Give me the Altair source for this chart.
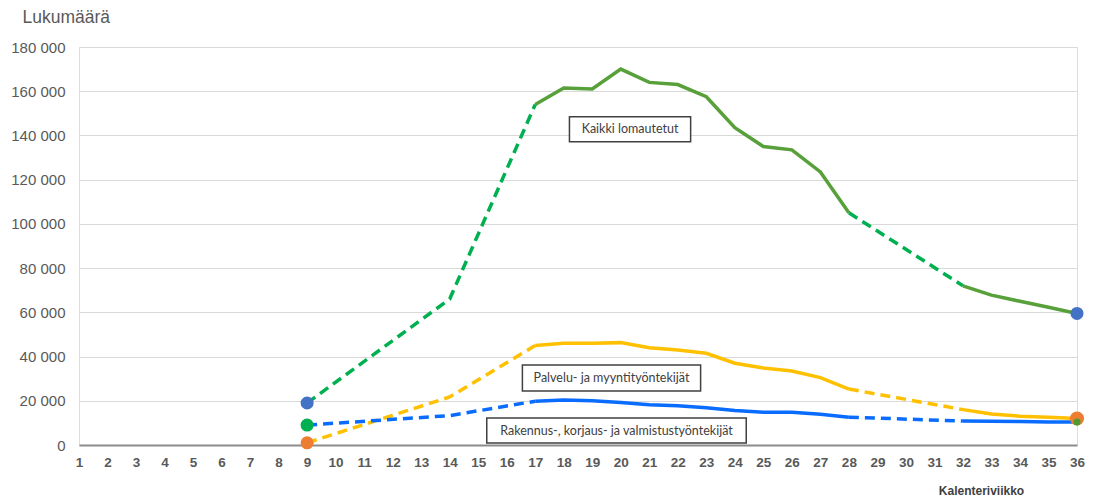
import altair as alt
import pandas as pd

# ---- data ----
weeks = [9, 14, 17, 18, 19, 20, 21, 22, 23, 24, 25, 26, 27, 28, 32, 33, 34, 35, 36]
kaikki = [19000, 66000, 154000, 161500, 161000, 170000, 164000, 163000, 157500, 143500,
          135000, 133500, 123500, 105000, 72000, 67800, 65000, 62300, 59500]
palvelu = [1000, 21700, 45000, 46000, 46000, 46300, 44000, 43000, 41500, 37000,
           34800, 33500, 30500, 25300, 16000, 14000, 13000, 12500, 12000]
rakennus = [9000, 13300, 19800, 20300, 20000, 19200, 18200, 17800, 16800, 15600,
            14800, 14800, 13900, 12600, 10800, 10700, 10600, 10400, 10400]
series_names = ["Kaikki lomautetut", "Palvelu- ja myyntityöntekijät",
                "Rakennus-, korjaus- ja valmistustyöntekijät"]
series_values = [kaikki, palvelu, rakennus]
solid_colors = ["#57A03A", "#FFC000", "#0A6CFF"]
dash_colors = ["#00B050", "#FFC000", "#0A6CFF"]

# segments: (style, first week, last week)
segments = [("dash", 9, 17), ("solid", 17, 28), ("dash", 28, 32), ("solid", 32, 36)]

# endpoint markers
dot_weeks = [9, 9, 9, 36, 36, 36]
dot_values = [19000, 9000, 1000, 59500, 12000, 10400]
dot_colors = ["#4472C4", "#00B050", "#ED7D31", "#4472C4", "#ED7D31", "#4E9A32"]
dot_sizes = [170, 170, 170, 170, 200, 50]

# annotation boxes (data coordinates)
box_labels = series_names
box_x1 = [18.2, 16.55, 15.3]
box_x2 = [22.45, 22.8, 24.4]
box_y1 = [137200, 24400, 900]
box_y2 = [148400, 36200, 12200]

x_ticks = list(range(1, 37))
y_ticks = list(range(0, 180001, 20000))

# ---- build tables ----
rows = []
for name, vals, sc, dc in zip(series_names, series_values, solid_colors, dash_colors):
    for si, (style, a, b) in enumerate(segments):
        for w, v in zip(weeks, vals):
            if a <= w <= b:
                rows.append({"series": name, "week": w, "value": v, "style": style,
                             "col": sc if style == "solid" else dc,
                             "seg": f"{name}-{si}"})
lines_df = pd.DataFrame(rows)

dots_df = pd.DataFrame({"week": dot_weeks, "value": dot_values, "col": dot_colors, "size": dot_sizes})
boxes_df = pd.DataFrame({"label": box_labels, "x1": box_x1, "x2": box_x2, "y1": box_y1, "y2": box_y2})
boxes_df["xm"] = (boxes_df.x1 + boxes_df.x2) / 2
boxes_df["ym"] = (boxes_df.y1 + boxes_df.y2) / 2

xscale = alt.Scale(domain=[1, 36], nice=False, zero=False)
yscale = alt.Scale(domain=[0, 180000], nice=False)

x_axis = alt.Axis(
    values=x_ticks, format="d", grid=False, ticks=False, domain=True,
    domainColor="#8C8C8C", domainWidth=2, labelColor="#595959", labelFontWeight="bold",
    labelFontSize=13.5, labelFont="Liberation Sans", labelPadding=10, labelOverlap=False,
    labelBound=False, labelFlush=False,
    title="Kalenteriviikko", titleFontSize=12, titleFontWeight="bold", titleColor="#404040",
    titleFont="Liberation Sans", titleX=902, titleY=45, titleAlign="center",
    titleBaseline="middle")
y_axis = alt.Axis(
    values=y_ticks, labelExpr="replace(format(datum.value, ','), ',', ' ')",
    grid=True, gridColor="#D9D9D9", gridWidth=1, ticks=False, domain=False,
    labelColor="#595959", labelFontSize=15, labelFont="Liberation Sans", labelPadding=14,
    labelOverlap=False,
    title="Lukumäärä", titleAngle=0, titleX=-57, titleY=-30, titleAlign="left",
    titleBaseline="middle", titleFontSize=17.5, titleFontWeight="normal",
    titleColor="#595959", titleFont="Liberation Sans")


def xe(field):
    return alt.X(field, scale=xscale, axis=x_axis)


def ye(field):
    return alt.Y(field, scale=yscale, axis=y_axis)


solid = alt.Chart(lines_df).transform_filter(alt.datum.style == "solid").mark_line(
    strokeWidth=3.5, strokeCap="butt").encode(
    x=xe("week:Q"), y=ye("value:Q"),
    color=alt.Color("col:N", scale=None),
    detail="seg:N")
dash = alt.Chart(lines_df).transform_filter(alt.datum.style == "dash").mark_line(
    strokeWidth=3.5, strokeDash=[10, 6], strokeCap="butt").encode(
    x=xe("week:Q"), y=ye("value:Q"),
    color=alt.Color("col:N", scale=None),
    detail="seg:N")

dots = alt.Chart(dots_df).mark_circle(opacity=1).encode(
    x=xe("week:Q"), y=ye("value:Q"),
    color=alt.Color("col:N", scale=None),
    size=alt.Size("size:Q", scale=None, legend=None))

boxes = alt.Chart(boxes_df).mark_rect(fill="white", stroke="#404040", strokeWidth=1.5).encode(
    x=xe("x1:Q"), x2="x2:Q", y=ye("y1:Q"), y2="y2:Q")
box_text = alt.Chart(boxes_df).mark_text(font="Lato", fontSize=12.5, color="#404040",
                                         align="center", baseline="middle").encode(
    x=xe("xm:Q"), y=ye("ym:Q"), text="label:N")

chart = alt.layer(solid, dash, boxes, box_text, dots).properties(
    width=998, height=398,
    autosize=alt.AutoSizeParams(type="none"),
    padding={"left": 71, "top": 39, "right": 12, "bottom": 53},
).configure_view(stroke=None).configure(background="white").configure_axisX(
    labelOverlap=False)

chart.save("out.html", embed_options={"renderer": "svg", "actions": False})
